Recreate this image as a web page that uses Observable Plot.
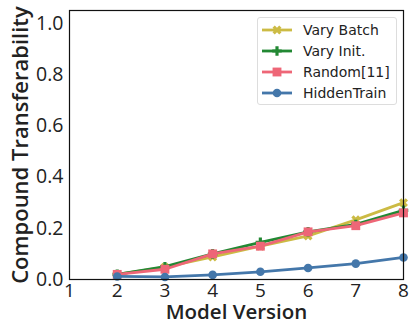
<!DOCTYPE html>
<html><head><meta charset="utf-8">
<script src="https://cdn.jsdelivr.net/npm/d3@7"></script>
<script src="https://cdn.jsdelivr.net/npm/@observablehq/plot@0.6"></script>
<style>
body{margin:0;background:#fff;}
#wrap{position:relative;width:411px;height:324px;}
#legend{position:absolute;left:257px;top:17px;width:140px;height:88px;border:1px solid #ddd;border-radius:3px;background:rgba(255,255,255,0.85);font-family:"DejaVu Sans",sans-serif;font-size:14px;color:#222;box-sizing:border-box;padding-top:1.5px;}
.row{display:flex;align-items:center;height:21px;white-space:nowrap;}
.row svg{margin-left:3px;margin-right:10px;flex:none;}
</style></head><body>
<div id="wrap"><div id="chart"></div><div id="legend"></div></div>
<script>
const versions = [2, 3, 4, 5, 6, 7, 8];
const seriesNames = ["Vary Batch", "Vary Init.", "Random[11]", "HiddenTrain"];
const varyBatch = [0.02, 0.048, 0.088, 0.13, 0.17, 0.233, 0.30];
const varyInit = [0.02, 0.05, 0.10, 0.145, 0.186, 0.215, 0.27];
const random11 = [0.02, 0.04, 0.10, 0.13, 0.186, 0.21, 0.26];
const hiddenTrain = [0.012, 0.01, 0.018, 0.03, 0.045, 0.062, 0.086];
const colors = ["#CCBB44", "#228833", "#EE6677", "#4477AA"];
const xTicks = [1, 2, 3, 4, 5, 6, 7, 8];
const yTicks = [0, 0.2, 0.4, 0.6, 0.8, 1.0];

// filled X symbol (rotated cross)
const symbolXFilled = {
  draw(ctx, size) {
    const r = Math.sqrt(size / 5) / 2;
    const pts = [[-3*r,-r],[-r,-r],[-r,-3*r],[r,-3*r],[r,-r],[3*r,-r],[3*r,r],[r,r],[r,3*r],[-r,3*r],[-r,r],[-3*r,r]];
    const c = Math.SQRT1_2;
    pts.forEach(([x,y],i)=>{const X=(x-y)*c, Y=(x+y)*c; i?ctx.lineTo(X,Y):ctx.moveTo(X,Y);});
    ctx.closePath();
  }
};
const symbols = [symbolXFilled, d3.symbolCross, d3.symbolSquare, d3.symbolCircle];
const radii = [4, 4, 5, 4.3];

const allVals = [varyBatch, varyInit, random11, hiddenTrain];
const data = [];
seriesNames.forEach((s, i) => versions.forEach((v, j) => data.push({series: s, idx: i, x: v, y: allVals[i][j]})));

const marks = [
  Plot.axisX({ticks: xTicks, tickSize: 0, tickPadding: 4, fontSize: 19, label: null, tickFormat: d => d}),
  Plot.axisY({ticks: yTicks, tickSize: 0, tickPadding: 6, fontSize: 19.5, label: null, tickFormat: d3.format(".1f")}),
  Plot.text(["Model Version"], {frameAnchor: "bottom", dy: 33, fontSize: 20.5, fontWeight: 600, fill: "#222", lineAnchor: "middle"}),
  Plot.text(["Compound Transferability"], {frameAnchor: "left", dx: -49, rotate: -90, textAnchor: "middle", fontSize: 22, fontWeight: 600, fill: "#222"}),
];
seriesNames.forEach((s, i) => {
  const d = data.filter(e => e.idx === i);
  marks.push(Plot.line(d, {x: "x", y: "y", stroke: colors[i], strokeWidth: 2.8}));
  marks.push(Plot.dot(d, {x: "x", y: "y", fill: colors[i], stroke: "none", symbol: () => symbols[i], r: radii[i]}));
});
marks.push(Plot.frame({stroke: "#111", strokeWidth: 1.2}));

const chart = Plot.plot({
  width: 411, height: 324,
  marginLeft: 69, marginRight: 8, marginTop: 10, marginBottom: 45,
  style: {fontFamily: "'Open Sans', sans-serif", color: "#222", background: "white", overflow: "visible"},
  x: {domain: [1, 8]},
  y: {domain: [0, 1.05]},
  marks
});
document.getElementById("chart").appendChild(chart);

// legend
const lg = d3.select("#legend");
seriesNames.forEach((s, i) => {
  const row = lg.append("div").attr("class", "row");
  const sv = row.append("svg").attr("width", 32).attr("height", 14);
  sv.append("line").attr("x1", 1).attr("x2", 31).attr("y1", 7).attr("y2", 7).attr("stroke", colors[i]).attr("stroke-width", 2.8);
  sv.append("path").attr("transform", "translate(16,7)").attr("fill", colors[i])
    .attr("d", d3.symbol(symbols[i], Math.PI * radii[i] * radii[i])());
  row.append("span").text(s);
});
</script>
</body></html>
